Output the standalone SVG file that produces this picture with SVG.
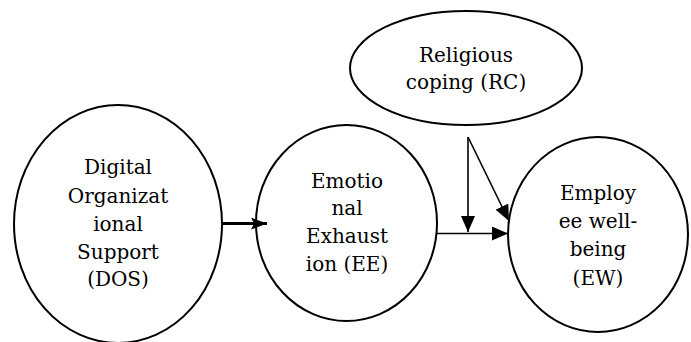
<svg xmlns="http://www.w3.org/2000/svg" width="691" height="342" viewBox="0 0 691 342">
<defs>
<style>
.node{fill:#fff;stroke:#000;stroke-width:2}
.lbl{font-family:"DejaVu Serif","Liberation Serif",serif;font-size:20px;fill:#000;text-anchor:middle}
.c{fill:none;stroke:#000;stroke-width:1.6}
</style>
<marker id="ah" viewBox="0 0 16 14" refX="16" refY="7" markerWidth="16" markerHeight="14" markerUnits="userSpaceOnUse" orient="auto">
<path d="M0,0 L16,7 L0,14 Z" fill="#000"/>
</marker>
<marker id="ahs" viewBox="0 0 16 12" refX="16" refY="6" markerWidth="16" markerHeight="12" markerUnits="userSpaceOnUse" orient="auto">
<path d="M0,0 L16,6 L0,12 L3,6 Z" fill="#000"/>
</marker>
</defs>
<rect width="691" height="342" fill="#fff"/>
<g id="DOS">
<ellipse class="node" cx="118" cy="224" rx="104" ry="119"/>
<text class="lbl" x="118" y="174">Digital</text>
<text class="lbl" x="118" y="203">Organizat</text>
<text class="lbl" x="118" y="231">ional</text>
<text class="lbl" x="118" y="259">Support</text>
<text class="lbl" x="118" y="286">(DOS)</text>
</g>
<g id="EE">
<ellipse class="node" cx="346.5" cy="223" rx="90.5" ry="98"/>
<text class="lbl" x="347" y="188">Emotio</text>
<text class="lbl" x="347" y="215">nal</text>
<text class="lbl" x="347" y="243">Exhaust</text>
<text class="lbl" x="347" y="271">ion (EE)</text>
</g>
<g id="RC">
<ellipse class="node" cx="466" cy="68" rx="116" ry="57"/>
<text class="lbl" x="466" y="62">Religious</text>
<text class="lbl" x="466" y="89">coping (RC)</text>
</g>
<g id="EW">
<ellipse class="node" cx="598" cy="234.5" rx="90" ry="97.5"/>
<text class="lbl" x="598" y="200">Employ</text>
<text class="lbl" x="598" y="228">ee well-</text>
<text class="lbl" x="598" y="256">being</text>
<text class="lbl" x="598" y="285">(EW)</text>
</g>
<g id="connectors">
<line x1="222" y1="223.5" x2="267" y2="223.5" stroke="#000" stroke-width="3.2" marker-end="url(#ahs)"/>
<line class="c" x1="437" y1="233.5" x2="508" y2="233.5" marker-end="url(#ah)"/>
<line class="c" x1="468" y1="137" x2="468" y2="232" marker-end="url(#ah)"/>
<line class="c" x1="468" y1="137" x2="509" y2="221" marker-end="url(#ah)"/>
</g>
</svg>
